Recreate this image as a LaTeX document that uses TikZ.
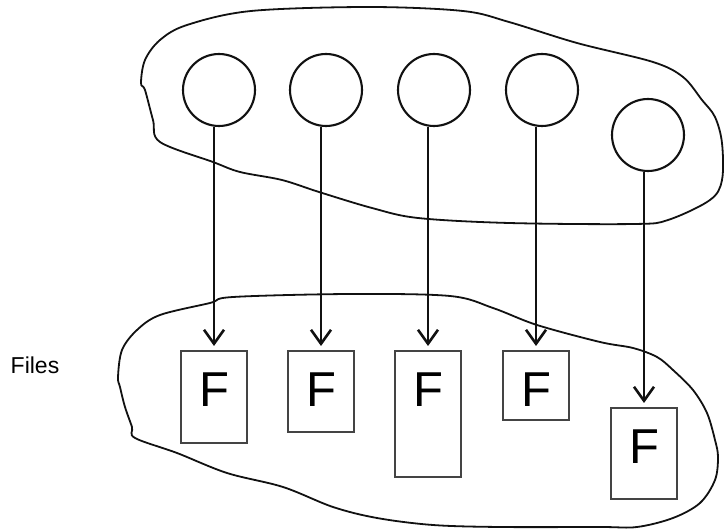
\documentclass[tikz,border=0pt]{standalone}
\usepackage{fontspec}
\setmainfont{Liberation Sans}
\usepackage{tikz}
\usetikzlibrary{arrows.meta,positioning}
\definecolor{FSLine}{HTML}{111111}
\definecolor{FSBox}{HTML}{444444}

\tikzset{
  procnode/.style={draw=FSLine, line width=1.05pt, circle, minimum size=36pt, inner sep=0pt},
  filebox/.style={draw=FSBox, line width=0.8pt, minimum width=33pt, inner sep=0pt, anchor=north},
  fletter/.style={inner sep=0pt, font=\fontsize{24.5pt}{26pt}\selectfont},
  fileptr/.style={draw=FSLine, line width=1.3pt, -{Straight Barb[length=7pt,width=10pt,line width=1.3pt]}, shorten >=2pt},
  blob/.style={draw=FSLine, line width=0.9pt}
}

\begin{document}
\begin{tikzpicture}[x=0.5pt,y=-0.5pt]
\useasboundingbox (0,0) rectangle (724,529);

% upper region: processes
\draw[blob] plot[smooth cycle, tension=0.55] coordinates {
  (141,83) (145,60) (160,40) (187,25) (251,11) (369,7) (463,11) (509,22)
  (577,43) (653,62) (683,77) (702,100) (715,117) (722,143) (722,180) (710,200)
  (668,220) (634,224) (509,223) (418,218) (372,208) (319,192) (282,180)
  (240,172) (213,162) (160,142) (153,120) (145,90)};

\node[procnode] (p1) at (219,90) {};
\node[procnode] (p2) at (326,90) {};
\node[procnode] (p3) at (434,90) {};
\node[procnode] (p4) at (542,90) {};
\node[procnode] (p5) at (648,135) {};

% lower region: files
\draw[blob] plot[smooth cycle, tension=0.55] coordinates {
  (118,377) (122,350) (137,330) (160,315) (210,303) (233,297) (350,294)
  (450,296) (493,308) (537,325) (600,342) (633,348) (657,357) (673,370)
  (693,390) (707,413) (715,440) (718,457) (715,480) (700,503) (673,518)
  (637,527) (600,527) (500,527) (433,525) (377,518) (333,507) (283,487)
  (227,473) (177,453) (135,438) (132,427) (125,407) (120,387)};

\node[filebox, minimum height=46pt] (f1) at (214,350) {};
\node[filebox, minimum height=40.5pt] (f2) at (321,350) {};
\node[filebox, minimum height=63pt] (f3) at (428,350) {};
\node[filebox, minimum height=34.5pt] (f4) at (536,350) {};
\node[filebox, minimum height=45.5pt] (f5) at (644,407) {};

\node[fletter, below=11pt of f1.north] (l1) {F};
\node[fletter, below=11pt of f2.north] (l2) {F};
\node[fletter, below=11pt of f3.north] (l3) {F};
\node[fletter, below=11pt of f4.north] (l4) {F};
\node[fletter, below=11pt of f5.north] (l5) {F};

\node[font=\fontsize{11.5pt}{13pt}\selectfont] (files) at (35,365) {Files};

% descriptors
\draw[fileptr] (f1.north |- p1.south) -- (f1.north);
\draw[fileptr] (f2.north |- p2.south) -- (f2.north);
\draw[fileptr] (f3.north |- p3.south) -- (f3.north);
\draw[fileptr] (f4.north |- p4.south) -- (f4.north);
\draw[fileptr] (f5.north |- p5.south) -- (f5.north);
\end{tikzpicture}
\end{document}
